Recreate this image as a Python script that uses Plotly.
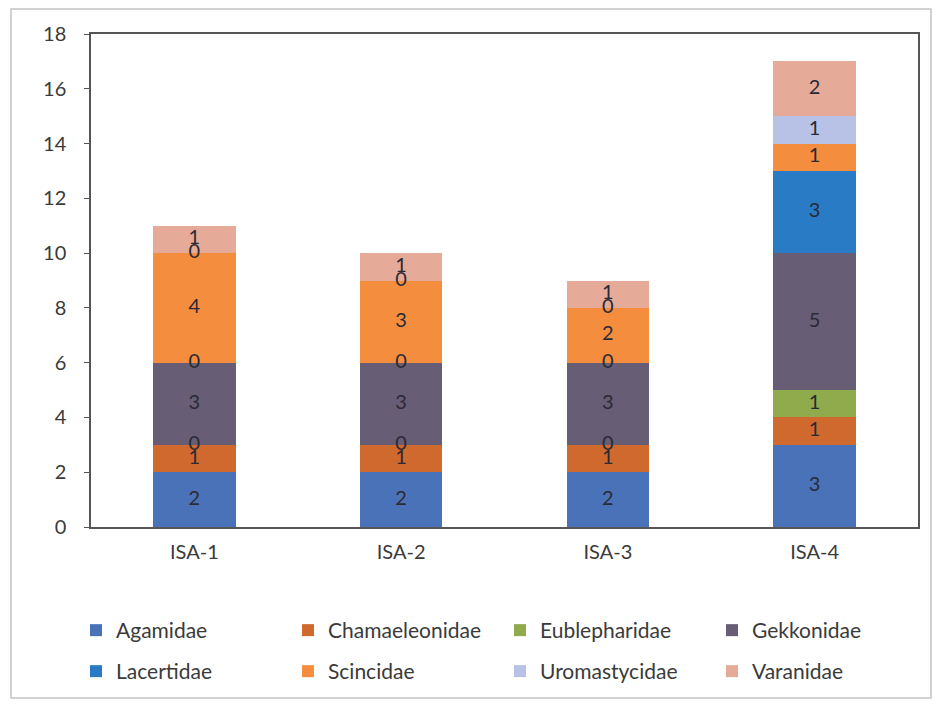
import plotly.graph_objects as go

sites = ["ISA-1", "ISA-2", "ISA-3", "ISA-4"]
families = ["Agamidae", "Chamaeleonidae", "Eublepharidae", "Gekkonidae",
            "Lacertidae", "Scincidae", "Uromastycidae", "Varanidae"]
agamidae = [2, 2, 2, 3]
chamaeleonidae = [1, 1, 1, 1]
eublepharidae = [0, 0, 0, 1]
gekkonidae = [3, 3, 3, 5]
lacertidae = [0, 0, 0, 3]
scincidae = [4, 3, 2, 1]
uromastycidae = [0, 0, 0, 1]
varanidae = [1, 1, 1, 2]
colors = ["#4a72b8", "#d0692e", "#8fab4c", "#675d74",
          "#2a7bc6", "#f58d3e", "#b8c2e6", "#e6aa98"]

series = [agamidae, chamaeleonidae, eublepharidae, gekkonidae,
          lacertidae, scincidae, uromastycidae, varanidae]

FONT = "Lato, 'Open Sans', sans-serif"
W, H = 932, 696
L, R, T, B = 83, 22, 26, 177
PW, PH = W - L - R, H - T - B

# legend grid (figure pixels): item left edges per column, top per row
col_x = [68, 280, 492, 704]
row_y = [602, 643]

fig = go.Figure()
legends = {}
for i, (name, vals, col) in enumerate(zip(families, series, colors)):
    lname = "legend" if i == 0 else f"legend{i + 1}"
    fig.add_trace(go.Bar(
        name=name, x=sites, y=vals, marker=dict(color=col, line=dict(width=0)),
        legend=lname,
    ))
    legends[lname] = dict(orientation="h", xref="container", yref="container",
                          xanchor="left", yanchor="top",
                          x=col_x[i % 4] / W, y=1 - row_y[i // 4] / H,
                          font=dict(size=21, color="#3a3a3a"),
                          bgcolor="rgba(0,0,0,0)")

# data labels (including zero-height segments) at segment midpoints
lx, ly, lt = [], [], []
cum = [0] * len(sites)
for vals in series:
    for j, v in enumerate(vals):
        lx.append(sites[j])
        ly.append(cum[j] + v / 2)
        lt.append(str(v))
        cum[j] += v
fig.add_trace(go.Scatter(x=lx, y=ly, text=lt, mode="text", showlegend=False,
                         textfont=dict(family=FONT, size=20, color="#2a2a35"),
                         hoverinfo="skip"))

fig.update_layout(
    width=W, height=H,
    barmode="stack", bargap=0.6,
    paper_bgcolor="white", plot_bgcolor="white",
    margin=dict(l=L, r=R, t=T, b=B),
    font=dict(family=FONT, size=20, color="#3a3a3a"),
    xaxis=dict(showline=True, linecolor="#555555", linewidth=1.5, mirror=True,
               ticks="", tickfont=dict(size=20), showgrid=False,
               ticklabelstandoff=6),
    yaxis=dict(range=[0, 18], dtick=2, showline=True, linecolor="#555555",
               linewidth=1.5, mirror=True, ticks="outside", ticklen=5,
               tickcolor="#555555", showgrid=False, zeroline=False,
               tickfont=dict(size=20), ticklabelstandoff=14),
    shapes=[dict(type="rect", xref="paper", yref="paper",
                 x0=(3 - L) / PW, x1=(923 - L) / PW,
                 y0=(T + PH - 690) / PH, y1=(T + PH - 1) / PH,
                 line=dict(color="#c4c4c4", width=1.5))],
    **legends,
)

fig.write_html("out.html")
